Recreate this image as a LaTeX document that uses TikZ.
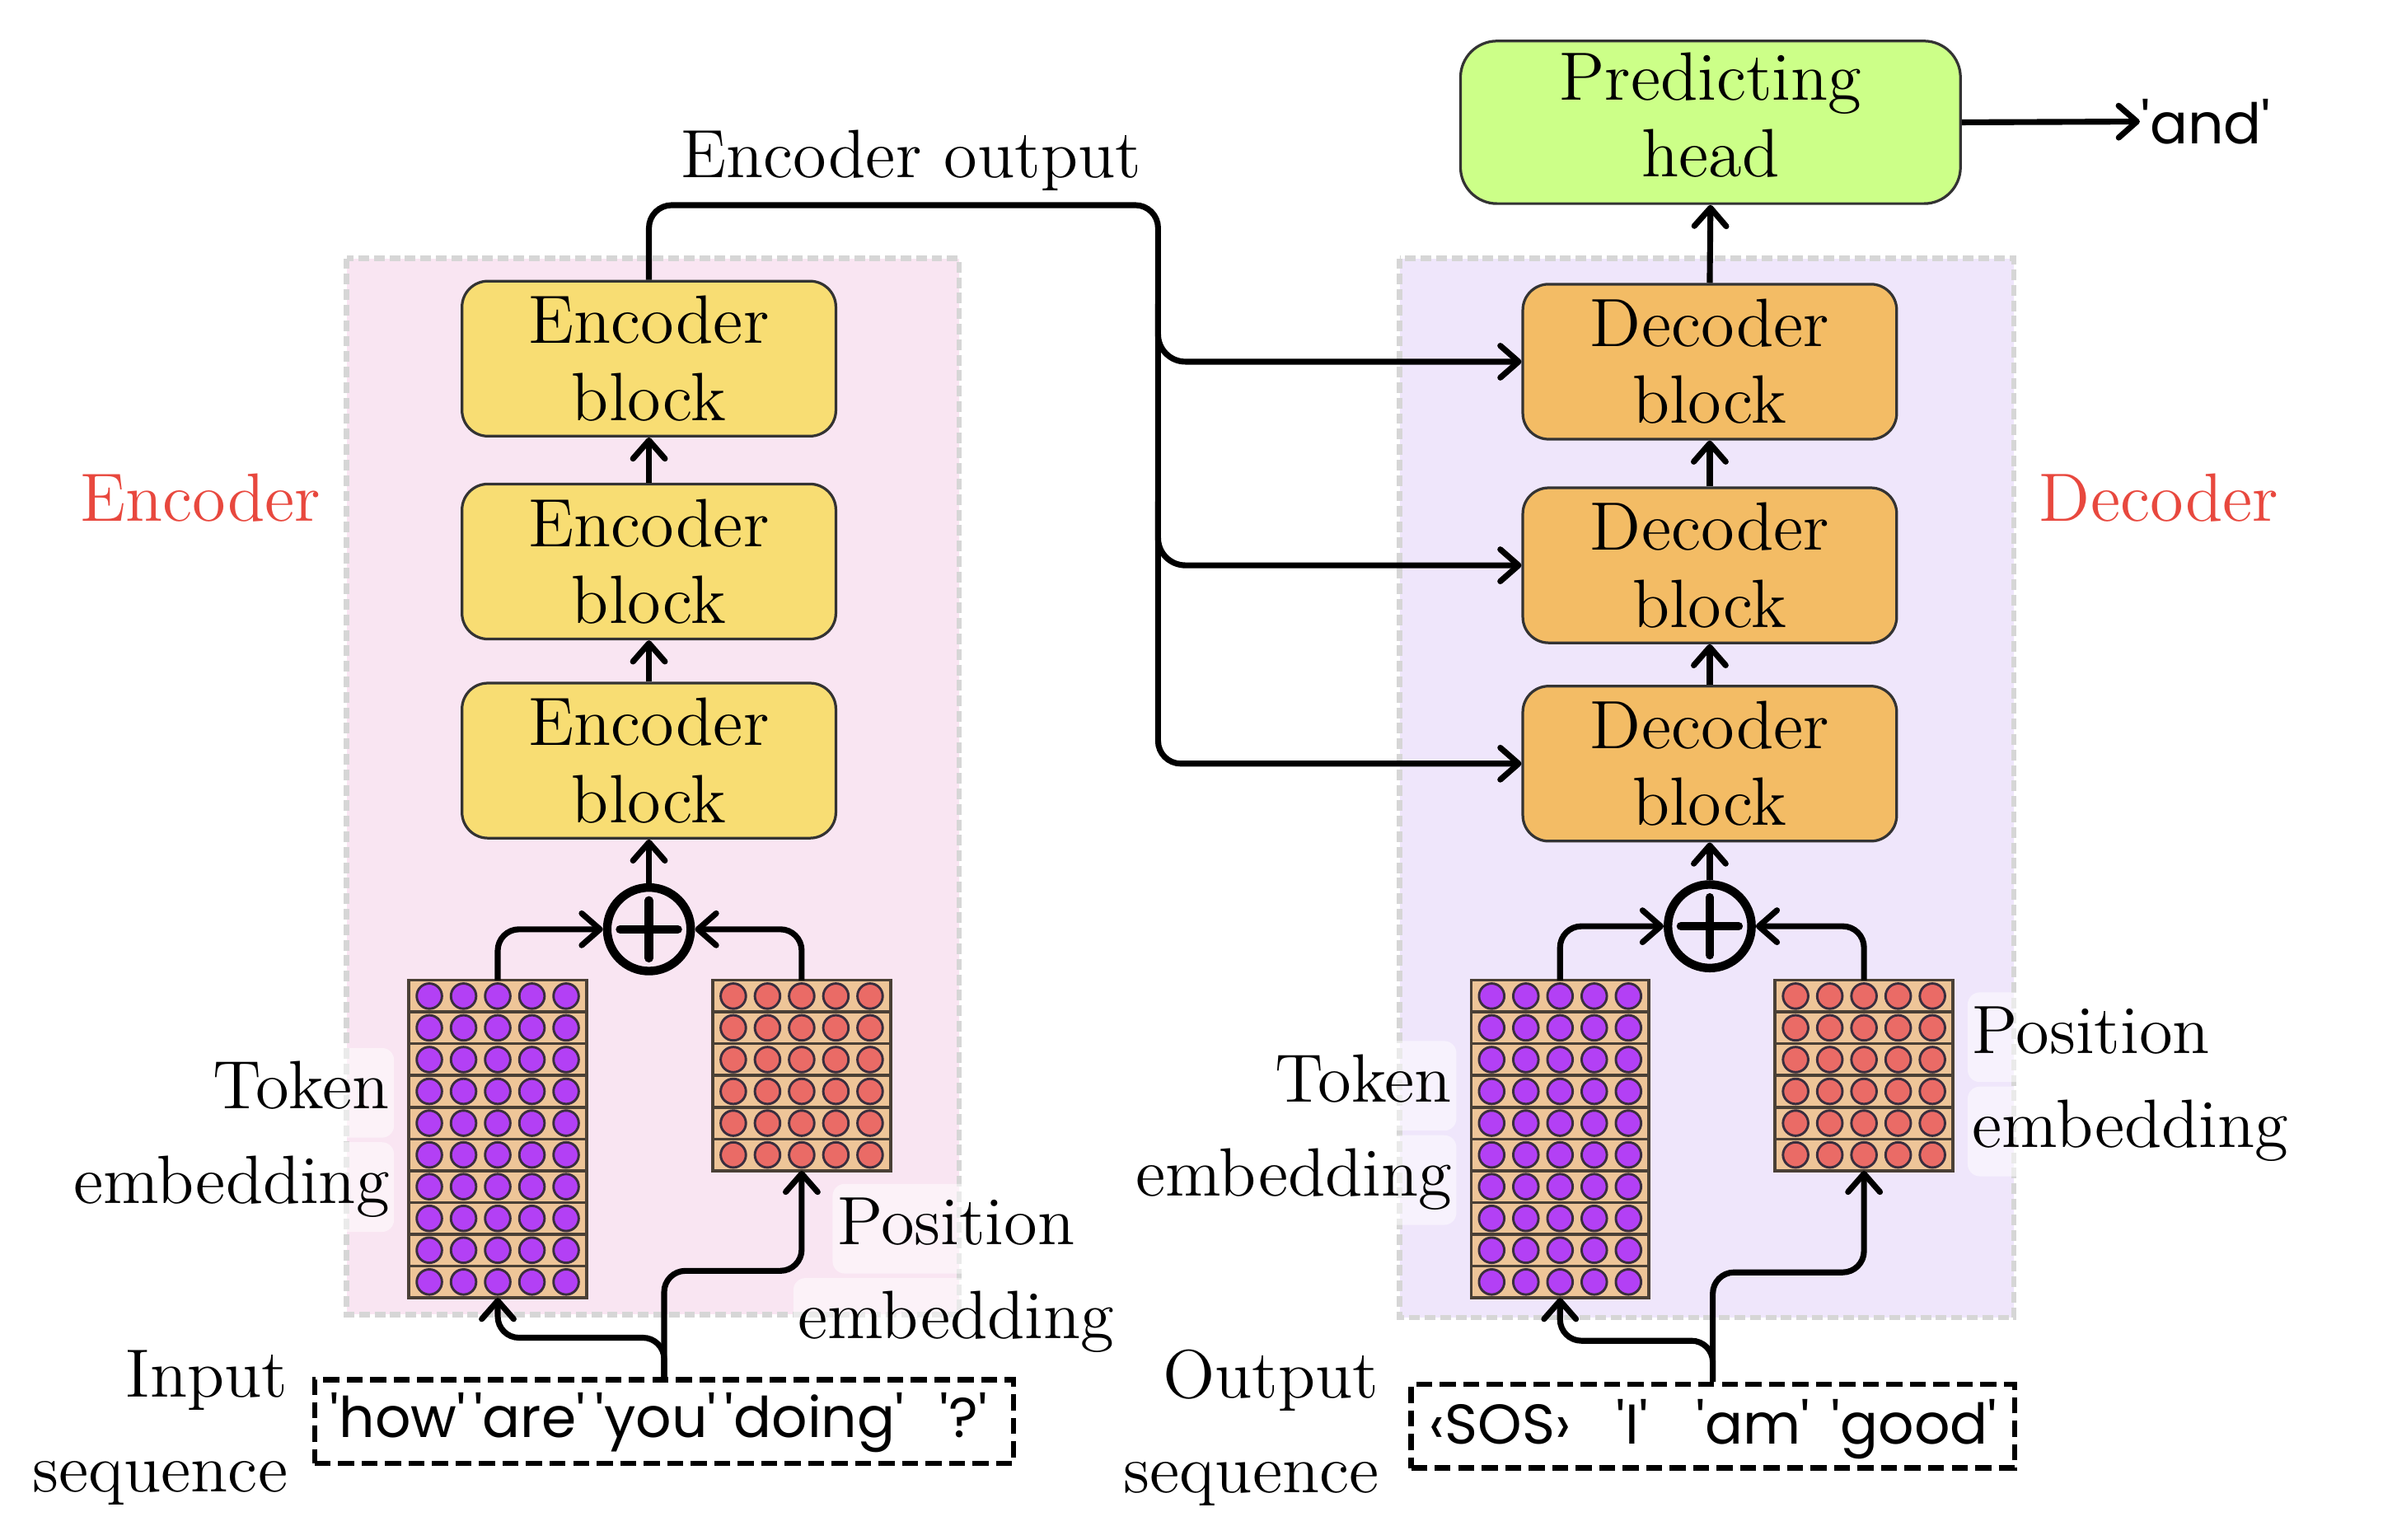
\documentclass[tikz,border=0pt]{standalone}
\usepackage{fontspec}
\usetikzlibrary{arrows.meta}
\font\popf="Poppins" at 10.5pt
\definecolor{encBg}{HTML}{F9E5F2}
\definecolor{decBg}{HTML}{EFE6FB}
\definecolor{encY}{HTML}{F8DD73}
\definecolor{decO}{HTML}{F3BC65}
\definecolor{headG}{HTML}{CCFF88}
\definecolor{matBg}{HTML}{EEC598}
\definecolor{purp}{HTML}{B340F5}
\definecolor{salm}{HTML}{EA6B66}
\definecolor{redT}{HTML}{E8483E}
\definecolor{bgLine}{HTML}{D6D6D6}
\definecolor{matLine}{HTML}{4A4036}
\definecolor{circLine}{HTML}{3A2E3E}
\newcommand{\embmat}[5]{%
  \node[inner sep=0, outer sep=0, minimum width=11.7mm, minimum height=#4*2.09mm, anchor=north west] (#1) at (#2,#3) {};
  \foreach \rowi in {1,...,#4}{
    \draw[draw=matLine, line width=0.55pt, fill=matBg] (#2,{#3+(\rowi-1)*20.9}) rectangle ++(117,20.9);
    \foreach \coli in {0,...,4}
      \draw[draw=circLine, line width=0.45pt, fill=#5] ({#2+13.5+\coli*22.5},{#3+(\rowi-0.5)*20.9}) circle[radius=0.83mm];
  }%
}
\begin{document}
\begin{tikzpicture}[x=0.1mm, y=-0.1mm,
  txt/.style={font=\fontsize{12.8}{14.4}\selectfont},
  ltxt/.style={font=\fontsize{12.8}{17.6}\selectfont},
  block/.style={txt, rounded corners=1.7mm, draw=black!80, line width=0.5pt, minimum width=24.6mm, minimum height=10.2mm, align=center, inner sep=0},
  encb/.style={block, fill=encY},
  decb/.style={block, fill=decO},
  conn/.style={line width=1.1pt, -{Straight Barb[length=1.2mm,width=2.1mm,round]}},
  bgbox/.style={draw=bgLine, line width=1pt, dash pattern=on 2pt off 0.9pt},
  lbl/.style={ltxt, fill=white, fill opacity=0.5, text opacity=1, rounded corners=0.8mm, inner xsep=0.3mm, inner ysep=0, text height=4.0mm, text depth=1.9mm},
  plain/.style={ltxt, inner sep=0},
  seqbox/.style={draw, line width=1pt, dash pattern=on 3pt off 1.4pt, inner sep=0, minimum height=5.5mm},
  tok/.style={font=\popf, inner sep=0, anchor=base},
  plus/.style={circle, draw, line width=1.6pt, minimum size=5.5mm, inner sep=0},
  plusbar/.style={line width=1.6pt, line cap=round}
]
\useasboundingbox (0,0) rectangle (1568,1013);

% backgrounds
\draw[bgbox, fill=encBg] (228,170) rectangle (631,865);
\draw[bgbox, fill=decBg] (921,170) rectangle (1325,867);

% side titles
\node[plain, text=redT, anchor=base] (encT) at (132,343) {Encoder};
\node[plain, text=redT, anchor=base] (decT) at (1420.5,343) {Decoder};

% encoder blocks
\node[encb] (e1) at (427,236) {Encoder\\block};
\node[encb] (e2) at (427,369.5) {Encoder\\block};
\node[encb] (e3) at (427,500.5) {Encoder\\block};

% decoder blocks
\node[decb] (d1) at (1125,238) {Decoder\\block};
\node[decb] (d2) at (1125,372) {Decoder\\block};
\node[decb] (d3) at (1125,502.5) {Decoder\\block};

% predicting head
\node[block, fill=headG, rounded corners=2.4mm, minimum width=32.9mm, minimum height=10.7mm, text depth=1mm] (head) at (1125.5,80.5) {Predicting\\head};
\node[inner sep=0, anchor=west] (andn) at (1408,80) {\popf 'and'};

% plus nodes
\node[plus] (pE) at (427,611.5) {};
\draw[plusbar] ([xshift=-1.9mm]pE.center) -- ([xshift=1.9mm]pE.center) ([yshift=-1.9mm]pE.center) -- ([yshift=1.9mm]pE.center);
\node[plus] (pD) at (1125,609.5) {};
\draw[plusbar] ([xshift=-1.9mm]pD.center) -- ([xshift=1.9mm]pD.center) ([yshift=-1.9mm]pD.center) -- ([yshift=1.9mm]pD.center);

% embedding matrices
\embmat{tokE}{269}{645}{10}{purp}
\embmat{posE}{469}{645}{6}{salm}
\embmat{tokD}{968}{645}{10}{purp}
\embmat{posD}{1168}{645}{6}{salm}

% labels
\node[lbl, anchor=base east] (tokEa) at (260,729.6) {Token};
\node[lbl, anchor=base east] (tokEb) at (260,791.6) {embedding};
\node[lbl, anchor=base] (posEa) at (629,819) {Position};
\node[lbl, anchor=base] (posEb) at (629,881) {embedding};
\node[lbl, anchor=base east] (tokDa) at (959,725) {Token};
\node[lbl, anchor=base east] (tokDb) at (959,787) {embedding};
\node[lbl, anchor=base west] (posDa) at (1294,693) {Position};
\node[lbl, anchor=base west] (posDb) at (1294,755) {embedding};
\node[plain, anchor=base east] (inLa) at (190,919.5) {Input};
\node[plain, anchor=base east] (inLb) at (190,981.5) {sequence};
\node[plain, anchor=base east] (outLa) at (908,920) {Output};
\node[plain, anchor=base east] (outLb) at (908,982) {sequence};
\node[plain, anchor=base] (eoL) at (599.5,117) {Encoder output};

% sequence boxes
\node[seqbox, minimum width=46mm] (inS) at (437,935.5) {};
\node[tok] (t1) at (262,946) {'how'};
\node[tok] (t2) at (348.5,946) {'are'};
\node[tok] (t3) at (431.5,946) {'you'};
\node[tok] (t4) at (536,946) {'doing'};
\node[tok] (t5) at (634,946) {'?'};
\node[seqbox, minimum width=39.7mm] (outS) at (1127,938.5) {};
\node[tok] (o1) at (987,950) {‹SOS›};
\node[tok] (o2) at (1074,950) {'I'};
\node[tok] (o3) at (1153.6,950) {'am'};
\node[tok] (o4) at (1259.5,950) {'good'};

% encoder connectors
\draw[conn] (e2.north) -- (e1.south);
\draw[conn] (e3.north) -- (e2.south);
\draw[conn] (pE.north) -- (e3.south);
\draw[conn, rounded corners=1.4mm] (tokE.north) |- (pE.west);
\draw[conn, rounded corners=1.4mm] (posE.north) |- (pE.east);
\draw[conn, rounded corners=1.4mm] (inS.north) -- ++(0,-26) -| (tokE.south);
\draw[conn, rounded corners=1.4mm] (inS.north) -- ++(0,-70) -| (posE.south);

% decoder connectors
\draw[conn] (d3.north) -- (d2.south);
\draw[conn] (d2.north) -- (d1.south);
\draw[conn] (d1.north) -- (head.south);
\draw[conn] (pD.north) -- (d3.south);
\draw[conn] (head.east) -- (andn.west);
\draw[conn, rounded corners=1.4mm] (tokD.north) |- (pD.west);
\draw[conn, rounded corners=1.4mm] (posD.north) |- (pD.east);
\draw[conn, rounded corners=1.4mm] (outS.north) -- ++(0,-27) -| (tokD.south);
\draw[conn, rounded corners=1.4mm] (outS.north) -- ++(0,-72) -| (posD.south);

% encoder output bus
\coordinate (busTop) at (762,135);
\coordinate (busA) at (762,200);
\coordinate (busB) at (762,330);
\draw[conn, rounded corners=1.5mm] (e1.north) |- (busTop) |- (d3.west);
\draw[conn, rounded corners=1.8mm] (busA) |- (d1.west);
\draw[conn, rounded corners=1.8mm] (busB) |- (d2.west);
\end{tikzpicture}
\end{document}
